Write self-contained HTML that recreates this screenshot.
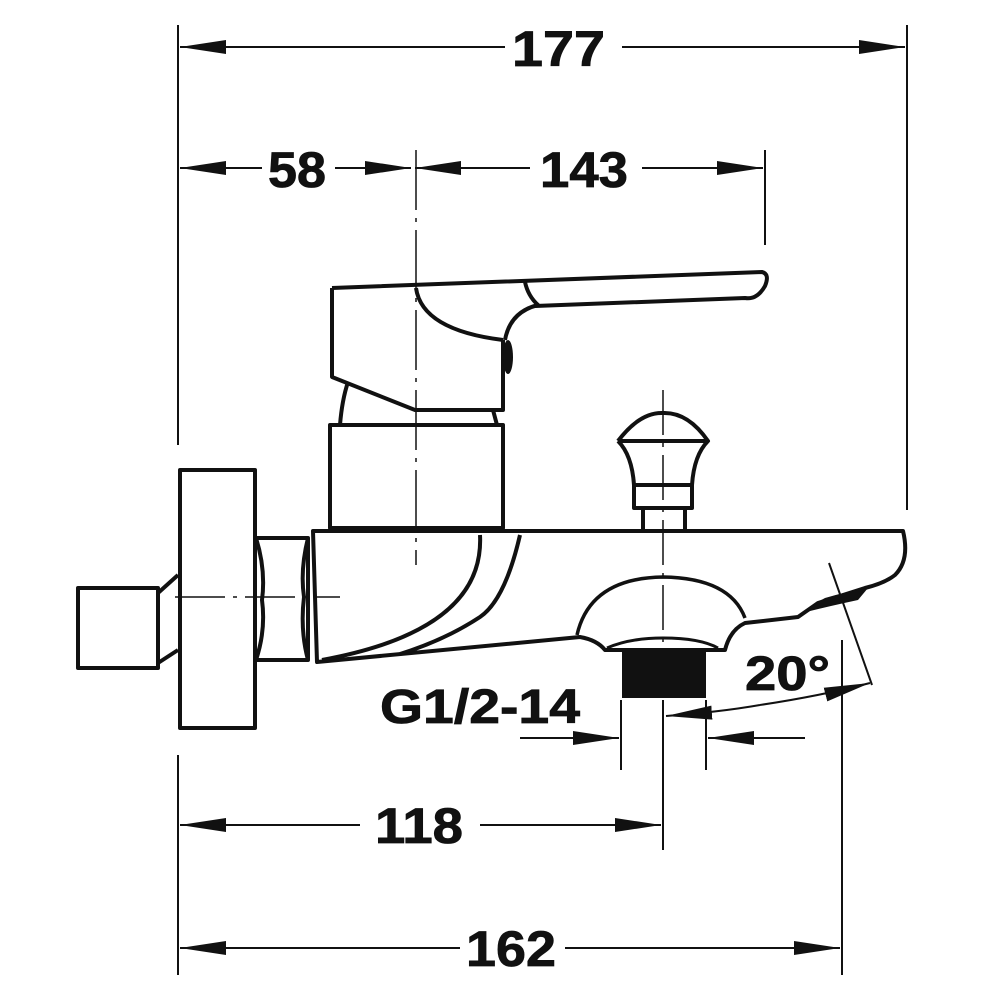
<!DOCTYPE html>
<html><head><meta charset="utf-8"><style>html,body{margin:0;padding:0;background:#fff}svg{display:block}text{font-family:"Liberation Sans",Arial,sans-serif;font-weight:bold;fill:#111;stroke:#111;stroke-width:0.8}</style></head>
<body>
<svg width="1000" height="1000" viewBox="0 0 1000 1000" xmlns="http://www.w3.org/2000/svg">
<defs>
<marker id="a" markerWidth="48" markerHeight="16" refX="46" refY="8" orient="auto" markerUnits="userSpaceOnUse"><path d="M0,1 L46,8 L0,15 Z" fill="#111"/></marker>
</defs>
<g stroke="#111" stroke-width="2" fill="none">
<line x1="178" y1="25" x2="178" y2="445"/>
<line x1="907" y1="25" x2="907" y2="510"/>
<line x1="765" y1="150" x2="765" y2="245"/>
<line x1="178" y1="755" x2="178" y2="975"/>
<line x1="842" y1="640" x2="842" y2="975"/>
<line x1="663" y1="700" x2="663" y2="850"/>
<line x1="621" y1="700" x2="621" y2="770"/>
<line x1="706" y1="700" x2="706" y2="770"/>
<line x1="505" y1="47" x2="180" y2="47" marker-end="url(#a)"/>
<line x1="622" y1="47" x2="905" y2="47" marker-end="url(#a)"/>
<line x1="262" y1="168" x2="180" y2="168" marker-end="url(#a)"/>
<line x1="335" y1="168" x2="411" y2="168" marker-end="url(#a)"/>
<line x1="530" y1="168" x2="415" y2="168" marker-end="url(#a)"/>
<line x1="642" y1="168" x2="763" y2="168" marker-end="url(#a)"/>
<line x1="360" y1="825" x2="180" y2="825" marker-end="url(#a)"/>
<line x1="480" y1="825" x2="661" y2="825" marker-end="url(#a)"/>
<line x1="460" y1="948" x2="180" y2="948" marker-end="url(#a)"/>
<line x1="565" y1="948" x2="840" y2="948" marker-end="url(#a)"/>
<line x1="520" y1="738" x2="619" y2="738" marker-end="url(#a)"/>
<line x1="805" y1="738" x2="708" y2="738" marker-end="url(#a)"/>
<line x1="829" y1="563" x2="872" y2="685"/>
<path d="M760,705 Q720,712 666,716" marker-end="url(#a)"/>
<path d="M760,705 Q820,696 870,683" marker-end="url(#a)"/>
<line x1="416" y1="150" x2="416" y2="565" stroke-width="1.5" stroke-dasharray="60,8,4,8"/>
<line x1="663" y1="390" x2="663" y2="790" stroke-width="1.5" stroke-dasharray="45,8,4,8"/>
<line x1="175" y1="597" x2="340" y2="597" stroke-width="1.5" stroke-dasharray="50,8,4,8"/>
</g>
<g stroke="#111" stroke-width="4" fill="none" stroke-linejoin="round">
<path d="M332,288 L762,272 Q770,274 765,286 Q757,300 745,298 L535,306"/>
<path d="M525,282 Q528,296 538,305 Q510,312 505,340"/>
<path d="M416,288 Q422,330 503,340"/>
<path d="M332,288 L332,377 L415,410 L503,410 L503,340"/>
<path d="M348,382 Q342,400 340,425 M493,410 L497,425"/>
<rect x="330" y="425" width="173" height="103"/>
<path d="M313,531 L903,531 Q910,560 895,575 Q885,583 865,588 L818,603 L798,617 L745,623 Q730,630 725,650 L605,650 Q597,640 580,637 L317,662 Z"/>
<path d="M480,535 Q485,630 322,660"/>
<path d="M520,535 Q505,600 480,617 Q445,640 400,654"/>
<path d="M577,635 Q590,578 663,577 Q730,578 745,618" stroke-width="3.5"/>
<path d="M607,648 Q630,638 663,638 Q700,638 718,648" stroke-width="3"/>
<path d="M618,441 Q640,412 663,413 Q688,412 708,441 L618,441 M618,441 Q632,455 634,485 L692,485 Q694,455 708,441 M634,485 L634,508 L692,508 L692,485 M643,508 L643,530 M685,508 L685,530"/>
<rect x="180" y="470" width="75" height="258"/>
<path d="M256,538 L308,538 L308,660 L256,660 Q266,630 262,600 Q266,570 256,538 Z M308,538 Q300,570 304,597 Q300,630 308,660"/>
<rect x="78" y="588" width="80" height="80"/>
<path d="M158,593 L178,575 M158,663 L178,650"/>
</g>
<path d="M868,588 Q845,592 825,598 Q810,606 806,612 Q830,606 858,600 Z" fill="#111"/>
<ellipse cx="508" cy="357" rx="5" ry="17" fill="#111"/>
<rect x="622" y="652" width="84" height="46" fill="#111"/>
<text x="512" y="66" font-size="50" textLength="93" lengthAdjust="spacingAndGlyphs">177</text>
<text x="268" y="187" font-size="50" textLength="58" lengthAdjust="spacingAndGlyphs">58</text>
<text x="540" y="187" font-size="50" textLength="88" lengthAdjust="spacingAndGlyphs">143</text>
<text x="375" y="843" font-size="50" textLength="88" lengthAdjust="spacingAndGlyphs">118</text>
<text x="466" y="966" font-size="50" textLength="90" lengthAdjust="spacingAndGlyphs">162</text>
<text x="380" y="723" font-size="48" textLength="200" lengthAdjust="spacingAndGlyphs">G1/2-14</text>
<text x="745" y="690" font-size="48" textLength="85" lengthAdjust="spacingAndGlyphs">20°</text>
</svg>
</body></html>
